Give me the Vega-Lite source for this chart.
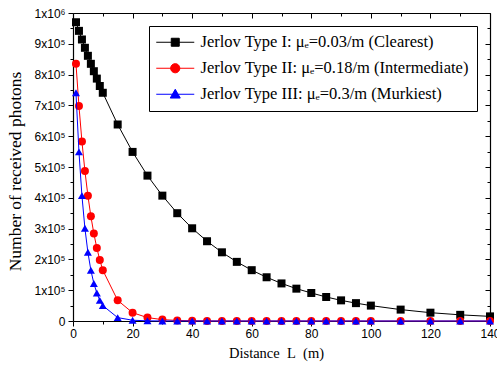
{
  "$schema": "https://vega.github.io/schema/vega-lite/v6.json",
  "width": 417,
  "height": 308,
  "autosize": "none",
  "padding": {"left": 73, "top": 13, "right": 7, "bottom": 49},
  "background": "white",
  "config": {"view": {"stroke": null}},
  "data": {"values": [
    {"s": "Jerlov Type I: μₑ=0.03/m (Clearest)", "d": 1, "n": 970000},
    {"s": "Jerlov Type I: μₑ=0.03/m (Clearest)", "d": 2, "n": 942000},
    {"s": "Jerlov Type I: μₑ=0.03/m (Clearest)", "d": 3, "n": 914000},
    {"s": "Jerlov Type I: μₑ=0.03/m (Clearest)", "d": 4, "n": 887000},
    {"s": "Jerlov Type I: μₑ=0.03/m (Clearest)", "d": 5, "n": 861000},
    {"s": "Jerlov Type I: μₑ=0.03/m (Clearest)", "d": 6, "n": 835000},
    {"s": "Jerlov Type I: μₑ=0.03/m (Clearest)", "d": 7, "n": 811000},
    {"s": "Jerlov Type I: μₑ=0.03/m (Clearest)", "d": 8, "n": 787000},
    {"s": "Jerlov Type I: μₑ=0.03/m (Clearest)", "d": 9, "n": 763000},
    {"s": "Jerlov Type I: μₑ=0.03/m (Clearest)", "d": 10, "n": 741000},
    {"s": "Jerlov Type I: μₑ=0.03/m (Clearest)", "d": 15, "n": 638000},
    {"s": "Jerlov Type I: μₑ=0.03/m (Clearest)", "d": 20, "n": 549000},
    {"s": "Jerlov Type I: μₑ=0.03/m (Clearest)", "d": 25, "n": 472000},
    {"s": "Jerlov Type I: μₑ=0.03/m (Clearest)", "d": 30, "n": 407000},
    {"s": "Jerlov Type I: μₑ=0.03/m (Clearest)", "d": 35, "n": 350000},
    {"s": "Jerlov Type I: μₑ=0.03/m (Clearest)", "d": 40, "n": 301000},
    {"s": "Jerlov Type I: μₑ=0.03/m (Clearest)", "d": 45, "n": 259000},
    {"s": "Jerlov Type I: μₑ=0.03/m (Clearest)", "d": 50, "n": 223000},
    {"s": "Jerlov Type I: μₑ=0.03/m (Clearest)", "d": 55, "n": 192000},
    {"s": "Jerlov Type I: μₑ=0.03/m (Clearest)", "d": 60, "n": 165000},
    {"s": "Jerlov Type I: μₑ=0.03/m (Clearest)", "d": 65, "n": 142000},
    {"s": "Jerlov Type I: μₑ=0.03/m (Clearest)", "d": 70, "n": 122000},
    {"s": "Jerlov Type I: μₑ=0.03/m (Clearest)", "d": 75, "n": 105000},
    {"s": "Jerlov Type I: μₑ=0.03/m (Clearest)", "d": 80, "n": 91000},
    {"s": "Jerlov Type I: μₑ=0.03/m (Clearest)", "d": 85, "n": 78000},
    {"s": "Jerlov Type I: μₑ=0.03/m (Clearest)", "d": 90, "n": 67000},
    {"s": "Jerlov Type I: μₑ=0.03/m (Clearest)", "d": 95, "n": 58000},
    {"s": "Jerlov Type I: μₑ=0.03/m (Clearest)", "d": 100, "n": 50000},
    {"s": "Jerlov Type I: μₑ=0.03/m (Clearest)", "d": 110, "n": 37000},
    {"s": "Jerlov Type I: μₑ=0.03/m (Clearest)", "d": 120, "n": 27000},
    {"s": "Jerlov Type I: μₑ=0.03/m (Clearest)", "d": 130, "n": 20000},
    {"s": "Jerlov Type I: μₑ=0.03/m (Clearest)", "d": 140, "n": 15000},
    {"s": "Jerlov Type II: μₑ=0.18/m (Intermediate)", "d": 1, "n": 835000},
    {"s": "Jerlov Type II: μₑ=0.18/m (Intermediate)", "d": 2, "n": 698000},
    {"s": "Jerlov Type II: μₑ=0.18/m (Intermediate)", "d": 3, "n": 583000},
    {"s": "Jerlov Type II: μₑ=0.18/m (Intermediate)", "d": 4, "n": 487000},
    {"s": "Jerlov Type II: μₑ=0.18/m (Intermediate)", "d": 5, "n": 407000},
    {"s": "Jerlov Type II: μₑ=0.18/m (Intermediate)", "d": 6, "n": 340000},
    {"s": "Jerlov Type II: μₑ=0.18/m (Intermediate)", "d": 7, "n": 284000},
    {"s": "Jerlov Type II: μₑ=0.18/m (Intermediate)", "d": 8, "n": 237000},
    {"s": "Jerlov Type II: μₑ=0.18/m (Intermediate)", "d": 9, "n": 198000},
    {"s": "Jerlov Type II: μₑ=0.18/m (Intermediate)", "d": 10, "n": 165000},
    {"s": "Jerlov Type II: μₑ=0.18/m (Intermediate)", "d": 15, "n": 67000},
    {"s": "Jerlov Type II: μₑ=0.18/m (Intermediate)", "d": 20, "n": 27000},
    {"s": "Jerlov Type II: μₑ=0.18/m (Intermediate)", "d": 25, "n": 11000},
    {"s": "Jerlov Type II: μₑ=0.18/m (Intermediate)", "d": 30, "n": 4500},
    {"s": "Jerlov Type II: μₑ=0.18/m (Intermediate)", "d": 35, "n": 1800},
    {"s": "Jerlov Type II: μₑ=0.18/m (Intermediate)", "d": 40, "n": 750},
    {"s": "Jerlov Type II: μₑ=0.18/m (Intermediate)", "d": 45, "n": 300},
    {"s": "Jerlov Type II: μₑ=0.18/m (Intermediate)", "d": 50, "n": 120},
    {"s": "Jerlov Type II: μₑ=0.18/m (Intermediate)", "d": 55, "n": 50},
    {"s": "Jerlov Type II: μₑ=0.18/m (Intermediate)", "d": 60, "n": 20},
    {"s": "Jerlov Type II: μₑ=0.18/m (Intermediate)", "d": 65, "n": 8},
    {"s": "Jerlov Type II: μₑ=0.18/m (Intermediate)", "d": 70, "n": 3},
    {"s": "Jerlov Type II: μₑ=0.18/m (Intermediate)", "d": 75, "n": 1},
    {"s": "Jerlov Type II: μₑ=0.18/m (Intermediate)", "d": 80, "n": 0},
    {"s": "Jerlov Type II: μₑ=0.18/m (Intermediate)", "d": 85, "n": 0},
    {"s": "Jerlov Type II: μₑ=0.18/m (Intermediate)", "d": 90, "n": 0},
    {"s": "Jerlov Type II: μₑ=0.18/m (Intermediate)", "d": 95, "n": 0},
    {"s": "Jerlov Type II: μₑ=0.18/m (Intermediate)", "d": 100, "n": 0},
    {"s": "Jerlov Type II: μₑ=0.18/m (Intermediate)", "d": 110, "n": 0},
    {"s": "Jerlov Type II: μₑ=0.18/m (Intermediate)", "d": 120, "n": 0},
    {"s": "Jerlov Type II: μₑ=0.18/m (Intermediate)", "d": 130, "n": 0},
    {"s": "Jerlov Type II: μₑ=0.18/m (Intermediate)", "d": 140, "n": 0},
    {"s": "Jerlov Type III: μₑ=0.3/m (Murkiest)", "d": 1, "n": 741000},
    {"s": "Jerlov Type III: μₑ=0.3/m (Murkiest)", "d": 2, "n": 549000},
    {"s": "Jerlov Type III: μₑ=0.3/m (Murkiest)", "d": 3, "n": 407000},
    {"s": "Jerlov Type III: μₑ=0.3/m (Murkiest)", "d": 4, "n": 301000},
    {"s": "Jerlov Type III: μₑ=0.3/m (Murkiest)", "d": 5, "n": 223000},
    {"s": "Jerlov Type III: μₑ=0.3/m (Murkiest)", "d": 6, "n": 165000},
    {"s": "Jerlov Type III: μₑ=0.3/m (Murkiest)", "d": 7, "n": 122000},
    {"s": "Jerlov Type III: μₑ=0.3/m (Murkiest)", "d": 8, "n": 91000},
    {"s": "Jerlov Type III: μₑ=0.3/m (Murkiest)", "d": 9, "n": 67000},
    {"s": "Jerlov Type III: μₑ=0.3/m (Murkiest)", "d": 10, "n": 50000},
    {"s": "Jerlov Type III: μₑ=0.3/m (Murkiest)", "d": 15, "n": 11000},
    {"s": "Jerlov Type III: μₑ=0.3/m (Murkiest)", "d": 20, "n": 2500},
    {"s": "Jerlov Type III: μₑ=0.3/m (Murkiest)", "d": 25, "n": 550},
    {"s": "Jerlov Type III: μₑ=0.3/m (Murkiest)", "d": 30, "n": 120},
    {"s": "Jerlov Type III: μₑ=0.3/m (Murkiest)", "d": 35, "n": 28},
    {"s": "Jerlov Type III: μₑ=0.3/m (Murkiest)", "d": 40, "n": 6},
    {"s": "Jerlov Type III: μₑ=0.3/m (Murkiest)", "d": 45, "n": 1},
    {"s": "Jerlov Type III: μₑ=0.3/m (Murkiest)", "d": 50, "n": 0},
    {"s": "Jerlov Type III: μₑ=0.3/m (Murkiest)", "d": 55, "n": 0},
    {"s": "Jerlov Type III: μₑ=0.3/m (Murkiest)", "d": 60, "n": 0},
    {"s": "Jerlov Type III: μₑ=0.3/m (Murkiest)", "d": 65, "n": 0},
    {"s": "Jerlov Type III: μₑ=0.3/m (Murkiest)", "d": 70, "n": 0},
    {"s": "Jerlov Type III: μₑ=0.3/m (Murkiest)", "d": 75, "n": 0},
    {"s": "Jerlov Type III: μₑ=0.3/m (Murkiest)", "d": 80, "n": 0},
    {"s": "Jerlov Type III: μₑ=0.3/m (Murkiest)", "d": 85, "n": 0},
    {"s": "Jerlov Type III: μₑ=0.3/m (Murkiest)", "d": 90, "n": 0},
    {"s": "Jerlov Type III: μₑ=0.3/m (Murkiest)", "d": 95, "n": 0},
    {"s": "Jerlov Type III: μₑ=0.3/m (Murkiest)", "d": 100, "n": 0},
    {"s": "Jerlov Type III: μₑ=0.3/m (Murkiest)", "d": 110, "n": 0},
    {"s": "Jerlov Type III: μₑ=0.3/m (Murkiest)", "d": 120, "n": 0},
    {"s": "Jerlov Type III: μₑ=0.3/m (Murkiest)", "d": 130, "n": 0},
    {"s": "Jerlov Type III: μₑ=0.3/m (Murkiest)", "d": 140, "n": 0}
  ]},
  "resolve": {"axis": {"x": "independent", "y": "independent"}},
  "layer": [
    {
      "transform": [{"filter": {"field": "s", "equal": "Jerlov Type I: μₑ=0.03/m (Clearest)"}}],
      "encoding": {
        "x": {"field": "d", "type": "quantitative",
          "scale": {"domain": [0, 140], "nice": false},
          "axis": {"orient": "bottom", "title": "Distance\u00a0\u00a0L\u00a0\u00a0(m)",
            "values": [0,10,20,30,40,50,60,70,80,90,100,110,120,130,140],
            "labelExpr": "datum.value % 20 === 0 ? datum.label : ''",
            "grid": false, "domainColor": "#000", "domainWidth": 1.2,
            "tickColor": "#000", "tickWidth": 1,
            "tickSize": {"condition": {"test": "datum.value % 20 === 0", "value": 5}, "value": 3},
            "labelFont": "Liberation Sans, Arial, sans-serif", "labelFontSize": 12, "labelColor": "#000", "labelPadding": 2,
            "labelFlush": false, "labelOverlap": false,
            "titleFont": "Liberation Serif, Times New Roman, serif", "titleFontSize": 14.5, "titleFontWeight": "normal", "titleColor": "#000", "titlePadding": 7,
            "titleX": 203}},
        "y": {"field": "n", "type": "quantitative",
          "scale": {"domain": [0, 1000000], "nice": false},
          "axis": {"orient": "left", "title": "Number of received photons",
            "values": [0,50000,100000,150000,200000,250000,300000,350000,400000,450000,500000,550000,600000,650000,700000,750000,800000,850000,900000,950000,1000000],
            "labelExpr": "datum.value === 0 ? '0' : datum.value === 1000000 ? '1x10⁶' : (datum.value % 100000 === 0 ? (datum.value/100000) + 'x10⁵' : '')",
            "grid": false, "domainColor": "#000", "domainWidth": 1.2,
            "tickColor": "#000", "tickWidth": 1,
            "tickSize": {"condition": {"test": "datum.value % 100000 === 0", "value": 5}, "value": 3},
            "labelFont": "Liberation Sans, Arial, sans-serif", "labelFontSize": 12, "labelColor": "#000", "labelPadding": 3,
            "labelFlush": false, "labelOverlap": false,
            "titleFont": "Liberation Serif, Times New Roman, serif", "titleFontSize": 17.5, "titleFontWeight": "normal", "titleColor": "#000", "titlePadding": 10,
            "titleY": 158}}
      },
      "layer": [
        {"mark": {"type": "line", "strokeWidth": 1, "color": "#000000", "clip": false}},
        {"mark": {"type": "point", "shape": "square", "filled": true, "opacity": 1, "size": 64, "color": "#000000", "clip": false}}
      ]
    },
    {
      "transform": [{"filter": {"field": "s", "equal": "Jerlov Type II: μₑ=0.18/m (Intermediate)"}}],
      "encoding": {
        "x": {"field": "d", "type": "quantitative", "axis": null},
        "y": {"field": "n", "type": "quantitative", "axis": null}
      },
      "layer": [
        {"mark": {"type": "line", "strokeWidth": 1, "color": "#ff0000", "clip": false}},
        {"mark": {"type": "point", "shape": "circle", "filled": true, "opacity": 1, "size": 64, "color": "#ff0000", "clip": false}}
      ]
    },
    {
      "transform": [{"filter": {"field": "s", "equal": "Jerlov Type III: μₑ=0.3/m (Murkiest)"}}],
      "encoding": {
        "x": {"field": "d", "type": "quantitative", "axis": null},
        "y": {"field": "n", "type": "quantitative", "axis": null}
      },
      "layer": [
        {"mark": {"type": "line", "strokeWidth": 1, "color": "#0000ff", "clip": false}},
        {"mark": {"type": "point", "shape": "triangle-up", "filled": true, "opacity": 1, "size": 64, "color": "#0000ff", "clip": false}}
      ]
    },
    {
      "transform": [{"filter": "false"}],
      "mark": {"type": "point", "filled": true, "opacity": 1, "strokeWidth": 1, "size": 64},
      "encoding": {
        "x": {"field": "d", "type": "quantitative",
          "axis": {"orient": "top", "title": null, "labels": false,
            "values": [0,10,20,30,40,50,60,70,80,90,100,110,120,130,140],
            "grid": false, "domainColor": "#000", "domainWidth": 1.2, "tickColor": "#000",
            "tickSize": {"condition": {"test": "datum.value % 20 === 0", "value": -5}, "value": -3}}},
        "y": {"field": "n", "type": "quantitative",
          "axis": {"orient": "right", "title": null, "labels": false,
            "values": [0,50000,100000,150000,200000,250000,300000,350000,400000,450000,500000,550000,600000,650000,700000,750000,800000,850000,900000,950000,1000000],
            "grid": false, "domainColor": "#000", "domainWidth": 1.2, "tickColor": "#000",
            "tickSize": {"condition": {"test": "datum.value % 100000 === 0", "value": -5}, "value": -3}}},
        "color": {"field": "s", "type": "nominal",
          "scale": {"domain": ["Jerlov Type I: μₑ=0.03/m (Clearest)", "Jerlov Type II: μₑ=0.18/m (Intermediate)", "Jerlov Type III: μₑ=0.3/m (Murkiest)"],
                    "range": ["#000000", "#ff0000", "#0000ff"]},
          "legend": {"orient": "none", "legendX": 76, "legendY": 13, "title": null,
            "direction": "vertical",
            "strokeColor": "#000", "fillColor": "#fff", "padding": 8,
            "symbolSize": 64, "symbolOffset": 10, "labelOffset": 17, "rowPadding": 9,
            "symbolStrokeWidth": 1, "symbolOpacity": 1,
            "labelFont": "Liberation Serif, Times New Roman, serif", "labelFontSize": 16.5, "labelColor": "#000", "labelLimit": 400}},
        "stroke": {"field": "s", "type": "nominal",
          "scale": {"domain": ["Jerlov Type I: μₑ=0.03/m (Clearest)", "Jerlov Type II: μₑ=0.18/m (Intermediate)", "Jerlov Type III: μₑ=0.3/m (Murkiest)"],
                    "range": ["#000000", "#ff0000", "#0000ff"]}},
        "shape": {"field": "s", "type": "nominal",
          "scale": {"domain": ["Jerlov Type I: μₑ=0.03/m (Clearest)", "Jerlov Type II: μₑ=0.18/m (Intermediate)", "Jerlov Type III: μₑ=0.3/m (Murkiest)"],
                    "range": ["M-4.75,0H4.75M-1,-1H1V1H-1Z", "M-4.75,0H4.75M1.15,0A1.15,1.15,0,1,1,-1.15,0A1.15,1.15,0,1,1,1.15,0Z", "M-4.75,0H4.75M0,-1.25L1.25,0.95H-1.25Z"]}}
      }
    }
  ]
}
